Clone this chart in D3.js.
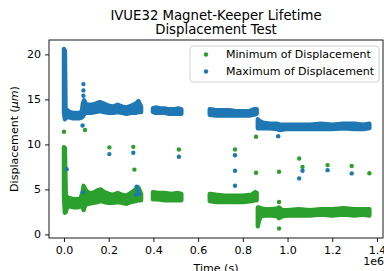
<!DOCTYPE html>
<html>
<head>
<meta charset="utf-8">
<script src="https://cdn.jsdelivr.net/npm/d3@7"></script>
<style>
  body { margin: 0; background: #fff; }
  svg { display: block; }
  text { font-family: "DejaVu Sans", sans-serif; fill: #000; }
</style>
</head>
<body>
<div id="chart"></div>
<script>
// time in units of 1e6 s, null = gap in the recording
const minTime = [0.000,0.004,0.008,0.015,0.030,0.045,0.060,0.075,0.083,0.088,0.095,0.110,0.130,0.150,0.165,0.180,0.200,0.220,0.240,0.260,0.280,0.300,0.320,0.333,0.345,null,
  0.398,0.420,0.450,0.480,0.510,0.525,null,
  0.652,0.680,0.720,0.760,0.800,0.840,0.855,0.862,null,
  0.867,0.872,0.880,0.900,0.930,0.955,0.962,0.975,1.000,1.050,1.100,1.150,1.200,1.250,1.300,1.340,1.366];
const minLow  = [4.2,2.4,2.5,3.1,3.1,3.0,3.0,3.1,3.1,2.7,3.3,3.4,3.5,3.6,3.7,3.6,3.5,3.5,3.6,3.5,3.4,3.6,3.7,3.8,3.8,null,
  3.9,3.9,3.8,3.8,3.8,3.8,null,
  3.7,3.6,3.6,3.6,3.6,3.7,3.8,3.8,null,
  0.9,1.5,2.0,2.1,2.1,2.0,1.8,2.0,2.1,2.1,2.1,2.2,2.1,2.2,2.1,2.2,2.1];
const minHigh = [9.7,9.6,4.4,4.1,4.0,3.9,3.9,4.0,4.7,5.4,5.0,4.6,4.6,4.9,5.0,4.7,4.5,4.4,4.6,4.4,4.3,4.6,5.0,5.2,4.5,null,
  4.7,4.6,4.6,4.5,4.6,4.5,null,
  4.5,4.4,4.3,4.3,4.3,4.4,4.7,4.6,null,
  3.0,3.0,2.9,2.8,2.8,2.9,3.0,2.7,2.7,2.8,2.7,2.8,2.8,2.9,2.8,2.8,2.8];

const maxTime = [0.000,0.004,0.007,0.015,0.025,0.040,0.055,0.070,0.080,0.085,0.090,0.100,0.120,0.140,0.160,0.180,0.200,0.220,0.240,0.260,0.280,0.300,0.320,0.333,0.345,null,
  0.398,0.410,0.430,0.450,0.470,0.490,0.510,0.525,null,
  0.652,0.680,0.710,0.740,0.770,0.800,0.830,0.850,0.862,null,
  0.867,0.875,0.890,0.920,0.955,0.965,0.990,1.050,1.100,1.150,1.200,1.250,1.300,1.340,1.366];
const maxLow  = [13.5,12.8,12.9,13.0,13.0,12.9,12.9,12.9,13.0,13.1,13.4,13.5,13.5,13.6,13.7,13.6,13.5,13.5,13.6,13.5,13.4,13.5,13.5,13.6,13.6,null,
  13.6,13.5,13.5,13.5,13.4,13.4,13.4,13.4,null,
  13.3,13.2,13.2,13.2,13.2,13.2,13.2,13.3,13.4,null,
  11.8,11.8,11.8,11.8,11.7,11.6,11.7,11.7,11.7,11.7,11.7,11.8,11.7,11.7,11.8];
const maxHigh = [20.6,20.4,13.9,13.8,13.6,13.5,13.5,13.5,13.7,14.6,14.9,14.4,14.4,14.5,14.7,14.5,14.3,14.2,14.4,14.2,14.1,14.3,14.5,14.8,14.2,null,
  14.0,14.1,14.0,14.0,13.9,13.9,14.0,13.9,null,
  13.9,13.8,13.8,13.8,13.7,13.7,13.7,13.9,13.9,null,
  12.8,12.6,12.4,12.3,12.3,12.2,12.2,12.2,12.2,12.3,12.2,12.3,12.3,12.2,12.3];

// isolated readings away from the main bands
const minOutTime = [0.000,0.094,0.203,0.310,0.315,0.514,0.765,0.859,0.859,0.962,0.962,0.962,1.052,1.067,1.179,1.287,1.366];
const minOutVal  = [11.4,11.6,9.67,9.73,7.2,9.44,9.44,10.85,6.85,6.96,3.6,0.66,8.44,7.5,7.7,7.6,6.8];
const maxOutTime = [0.012,0.086,0.083,0.087,0.087,0.087,0.203,0.310,0.325,0.330,0.335,0.322,0.514,0.765,0.765,0.765,0.958,1.052,1.067,1.179,1.287];
const maxOutVal  = [7.25,4.67,12.1,16.7,16.0,15.4,8.92,9.07,5.3,4.9,4.5,4.4,8.63,8.8,7.07,5.4,10.9,6.22,7.07,7.14,6.78];

const xTicks = [0, 0.2, 0.4, 0.6, 0.8, 1.0, 1.2, 1.4];
const yTicks = [0, 5, 10, 15, 20];
const legendItems = ["Minimum of Displacement", "Maximum of Displacement"];

const width = 384, height = 271;
const box = {left: 49, right: 383, top: 40, bottom: 238};
const r = 2.2;
const green = "#2ca02c", blue = "#1f77b4";

const svg = d3.select("#chart").append("svg")
  .attr("width", width).attr("height", height);

// size the base font so the legend text is as wide as in the picture (~145px)
const probe = svg.append("text").attr("font-size", "10px").text(legendItems[0]);
const fs = 10 * 145 / probe.node().getComputedTextLength();
probe.remove();

const x = d3.scaleLinear().domain([-0.067, 1.427]).range([box.left, box.right]);
const y = d3.scaleLinear().domain([-0.4, 21.6]).range([box.bottom, box.top]);

svg.append("clipPath").attr("id", "plot")
  .append("rect")
    .attr("x", box.left).attr("y", box.top)
    .attr("width", box.right - box.left).attr("height", box.bottom - box.top);

const plot = svg.append("g").attr("clip-path", "url(#plot)");

function drawSeries(time, low, high, outT, outV, color) {
  const band = d3.area()
    .defined((d, i) => time[i] != null)
    .x((d, i) => x(time[i]))
    .y0((d, i) => y(low[i]))
    .y1((d, i) => y(high[i]));

  plot.append("path")
    .attr("d", band(time))
    .attr("fill", color)
    .attr("stroke", color)
    .attr("stroke-width", 2 * r)
    .attr("stroke-linejoin", "round")
    .attr("stroke-linecap", "round");

  plot.selectAll(null)
    .data(outT)
    .enter()
    .append("circle")
      .attr("cx", d => x(d))
      .attr("cy", (d, i) => y(outV[i]))
      .attr("r", r)
      .attr("fill", color);
}

drawSeries(minTime, minLow, minHigh, minOutTime, minOutVal, green);
drawSeries(maxTime, maxLow, maxHigh, maxOutTime, maxOutVal, blue);

// axes
const xAxis = svg.append("g")
  .attr("transform", "translate(0," + box.bottom + ")")
  .call(d3.axisBottom(x).tickValues(xTicks).tickFormat(d3.format(".1f")).tickSize(4).tickPadding(4));
const yAxis = svg.append("g")
  .attr("transform", "translate(" + box.left + ",0)")
  .call(d3.axisLeft(y).tickValues(yTicks).tickSize(4).tickPadding(4));

[xAxis, yAxis].forEach(a => {
  a.select(".domain").remove();
  a.selectAll("text").attr("font-size", fs + "px").attr("font-family", "DejaVu Sans").attr("fill", "#000");
  a.selectAll("line").attr("stroke", "#000").attr("stroke-width", 0.9);
});

svg.append("rect")
  .attr("x", box.left).attr("y", box.top)
  .attr("width", box.right - box.left).attr("height", box.bottom - box.top)
  .attr("fill", "none").attr("stroke", "#000").attr("stroke-width", 0.9);

// labels
const title = svg.append("text")
  .attr("text-anchor", "middle").attr("font-size", (fs * 1.2) + "px");
title.append("tspan").attr("x", (box.left + box.right) / 2).attr("y", 19.5).text("IVUE32 Magnet-Keeper Lifetime");
title.append("tspan").attr("x", (box.left + box.right) / 2).attr("y", 33.5).text("Displacement Test");

svg.append("text")
  .attr("x", (box.left + box.right) / 2).attr("y", 271.5)
  .attr("text-anchor", "middle").attr("font-size", fs + "px")
  .text("Time (s)");

svg.append("text")
  .attr("x", box.right + 1).attr("y", 265)
  .attr("text-anchor", "end").attr("font-size", fs + "px")
  .text("1e6");

const yLabel = svg.append("text")
  .attr("transform", "translate(18," + (box.top + box.bottom) / 2 + ") rotate(-90)")
  .attr("text-anchor", "middle").attr("font-size", fs + "px");
yLabel.append("tspan").text("Displacement (");
yLabel.append("tspan").attr("font-style", "italic").text("μm");
yLabel.append("tspan").text(")");

// legend
const legendColors = [green, blue];
const legend = svg.append("g");
legend.append("rect")
  .attr("x", 190).attr("y", 46).attr("width", 189).attr("height", 36).attr("rx", 3)
  .attr("fill", "#fff").attr("fill-opacity", 0.8)
  .attr("stroke", "#cccccc").attr("stroke-width", 0.9);
const rows = legend.selectAll("g.item")
  .data(legendItems)
  .enter()
  .append("g")
    .attr("transform", (d, i) => "translate(0," + (54.5 + i * 17) + ")");
rows.append("circle").attr("cx", 206).attr("cy", 0).attr("r", r).attr("fill", (d, i) => legendColors[i]);
rows.append("text").attr("x", 226).attr("y", 0).attr("dy", "0.36em")
  .attr("font-size", fs + "px").text(d => d);
</script>
</body>
</html>
